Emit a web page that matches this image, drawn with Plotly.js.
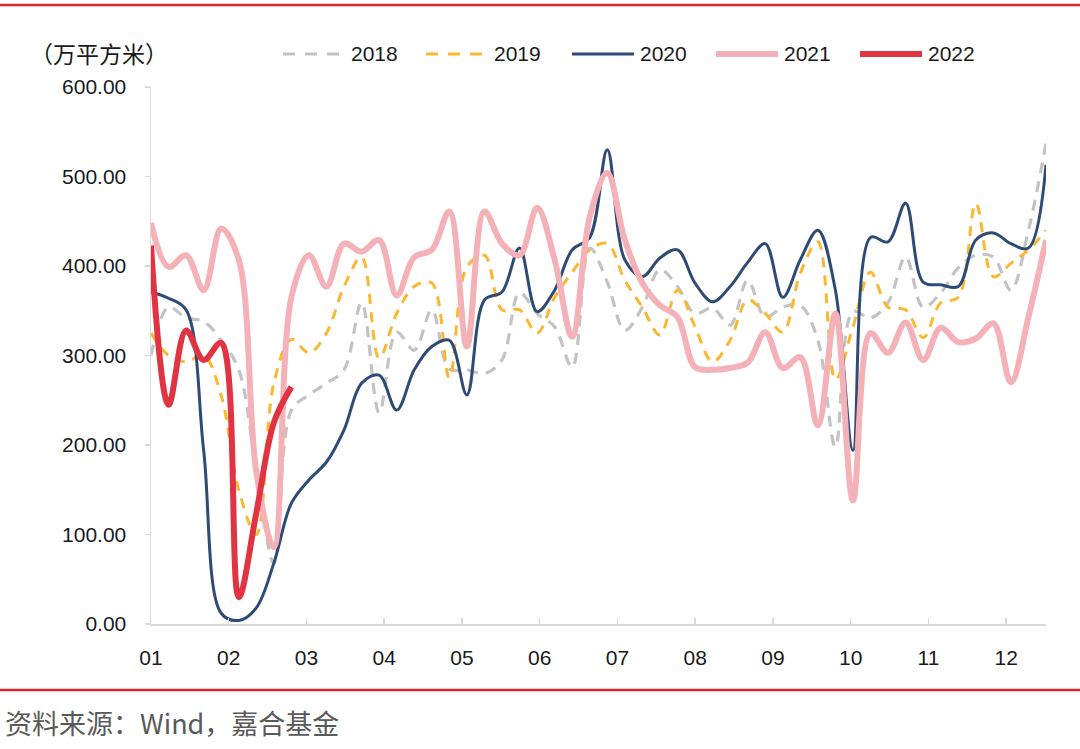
<!DOCTYPE html>
<html>
<head>
<meta charset="utf-8">
<script src="https://cdn.plot.ly/plotly-3.0.1.min.js"></script>
<style>
  html, body { margin: 0; padding: 0; background: #fff; }
  #chart { width: 1080px; height: 749px; }
</style>
</head>
<body>
<div id="chart"></div>
<script>
// ---- data ----
const weeks = [1,2,3,4,5,6,7,8,9,10,11,12,13,14,15,16,17,18,19,20,21,22,23,24,25,26,
               27,28,29,30,31,32,33,34,35,36,37,38,39,40,41,42,43,44,45,46,47,48,49,50,51,52];
const monthLabels = ["01","02","03","04","05","06","07","08","09","10","11","12"];
const seriesNames = ["2018","2019","2020","2021","2022"];

const s2018 = [300,354,342,338,317,284,172,68,239,256,269,284,359,236,326,306,351,285,284,280,295,370,347,332,287,420,
               382,328,354,396,377,347,353,334,384,343,354,356,317,198,349,342,359,410,354,370,398,412,410,373,440,537];
const s2019 = [325,300,293,300,255,150,100,269,318,303,325,377,410,297,347,377,381,275,399,412,351,351,325,365,393,418,
               425,384,354,323,373,332,293,317,362,347,326,392,427,273,332,393,354,351,320,359,365,470,388,403,418,440];
const s2020 = [371,364,351,194,12,4,18,68,135,161,181,217,269,278,239,284,310,317,256,362,371,420,349,373,418,432,
               530,407,388,409,418,381,360,377,404,425,365,407,440,373,194,432,427,470,382,379,377,429,437,425,420,513];
const s2021 = [448,399,412,373,442,407,170,86,365,412,377,425,416,429,367,410,418,461,310,461,425,412,465,407,321,455,
               504,429,381,356,343,287,284,286,292,326,286,298,222,347,138,325,303,337,295,331,315,319,336,270,343,429];
const s2022 = [423,245,328,295,314,30,124,225,265];

const yTicks = [0,100,200,300,400,500,600];

// ---- styles ----
const styles = [
  {color:"#c3c3c3", width:3.2, dash:"11px,8px"},
  {color:"#fbb732", width:3.0, dash:"10px,8px"},
  {color:"#2e4b76", width:3.0, dash:"solid"},
  {color:"#f4b1b8", width:6.0, dash:"solid"},
  {color:"#e13443", width:6.0, dash:"solid"}
];
const allSeries = [s2018, s2019, s2020, s2021, s2022];

const traces = allSeries.map((vals, i) => ({
  type: "scatter",
  mode: "lines",
  name: seriesNames[i],
  x: weeks.slice(0, vals.length),
  y: vals,
  line: {color: styles[i].color, width: styles[i].width, dash: styles[i].dash, shape: "spline", smoothing: 1},
  showlegend: false,
  hoverinfo: "skip"
}));

// plot area in pixels
const L = 151, R = 1046, T = 87, B = 624;
const px = v => (v - L) / (R - L);
const py = v => (B - v) / (B - T);

// month tick positions (evenly spaced, as in the reference)
const monthStep = 4.43;
const tickVals = monthLabels.map((_, k) => 1 + k * monthStep);

const fontNum = "Liberation Sans, Arial, Noto Sans CJK SC, sans-serif";
const fontCJK = "Noto Sans CJK SC, sans-serif";

const shapes = [
  {type:"line", xref:"paper", yref:"paper", x0:px(0), x1:px(1080), y0:py(5), y1:py(5),
   line:{color:"#d9262e", width:2.5}},
  {type:"line", xref:"paper", yref:"paper", x0:px(0), x1:px(1080), y0:py(690), y1:py(690),
   line:{color:"#d9262e", width:2.5}}
];
const annotations = [
  {xref:"paper", yref:"paper", x:px(28), y:py(53), text:"（万平方米）", showarrow:false,
   xanchor:"left", yanchor:"middle", font:{family:fontCJK, size:23, color:"#1a1a1a"}},
  {xref:"paper", yref:"paper", x:px(3), y:py(722), text:"资料来源：Wind，嘉合基金", showarrow:false,
   xanchor:"left", yanchor:"middle", font:{family:fontCJK, size:27, color:"#5a5a5a"}}
];
// custom legend (long line samples like the reference)
const legendStart = [283, 426, 572, 716, 860];
seriesNames.forEach((nm, i) => {
  const x0 = legendStart[i];
  shapes.push({type:"line", xref:"paper", yref:"paper", x0:px(x0), x1:px(x0+62), y0:py(54), y1:py(54),
    line:{color:styles[i].color, width:styles[i].width, dash: i < 2 ? "12px,10px" : "solid"}});
  annotations.push({xref:"paper", yref:"paper", x:px(x0+66), y:py(54), text:nm, showarrow:false,
    xanchor:"left", yanchor:"middle", font:{family:fontNum, size:21, color:"#1a1a1a"}});
});

const layout = {
  width: 1080, height: 749,
  margin: {l: L, r: 1080 - R, t: T, b: 749 - B, pad: 0},
  paper_bgcolor: "#ffffff",
  plot_bgcolor: "#ffffff",
  showlegend: false,
  xaxis: {
    range: [1, 52],
    tickmode: "array", tickvals: tickVals, ticktext: monthLabels,
    showgrid: false, zeroline: false,
    showline: true, linecolor: "#d9d9d9", linewidth: 1.5,
    ticks: "inside", ticklen: 6, tickcolor: "#d9d9d9", tickwidth: 1.5,
    ticklabelstandoff: 14,
    tickfont: {family: fontNum, size: 21, color: "#1a1a1a"}
  },
  yaxis: {
    range: [0, 600],
    tickmode: "array", tickvals: yTicks, ticktext: yTicks.map(v => v.toFixed(2)),
    showgrid: false, zeroline: false,
    showline: true, linecolor: "#d9d9d9", linewidth: 1.5,
    ticks: "outside", ticklen: 5, tickcolor: "#d9d9d9", tickwidth: 1.5,
    ticklabelstandoff: 14,
    tickfont: {family: fontNum, size: 21, color: "#1a1a1a"}
  },
  shapes: shapes,
  annotations: annotations
};

Plotly.newPlot("chart", traces, layout, {displayModeBar: false, staticPlot: true});
</script>
</body>
</html>
